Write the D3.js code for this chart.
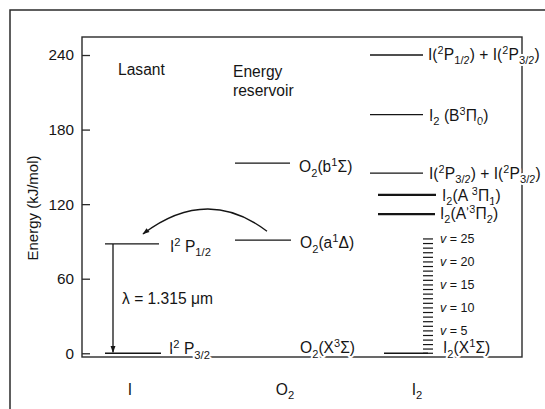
<!DOCTYPE html>
<html><head><meta charset="utf-8">
<script src="https://cdn.jsdelivr.net/npm/d3@7"></script>
<style>
body{margin:0;background:#fff}
svg{display:block}
text{font-family:"Liberation Sans",Arial,Helvetica,sans-serif;fill:#151515}
</style>
</head><body><svg id="c" width="545" height="409"></svg>
<script>
// ---------------- data ----------------
const categories = ["I", "O2", "I2"];
const categoryLabels = ["I", "O_2", "I_2"];
const yTicks = [0, 60, 120, 180, 240];
const yTickLabels = ["0", "60", "120", "180", "240"];

const levelColumn = ["I", "I", "O2", "O2", "O2", "I2", "I2", "I2", "I2", "I2", "I2"];
const levelNames = [
  "I^2 P_{3/2}", "I^2 P_{1/2}",
  "O_2(X^3Σ)", "O_2(a^1Δ)", "O_2(b^1Σ)",
  "I_2(X^1Σ)", "I_2(A'^3Π_2)", "I_2(A ^3Π_1)",
  "I(^2P_{3/2}) + I(^2P_{3/2})", "I_2 (B^3Π_0)", "I(^2P_{1/2}) + I(^2P_{3/2})"
];
const levelEnergy = [0, 88, 0, 91, 153, 0, 112, 127.5, 145, 192, 240];

const vibQuantum = [0,1,2,3,4,5,6,7,8,9,10,11,12,13,14,15,16,17,18,19,20,21,22,23,24,25];
const vibEnergy  = [0,3.4,7.0,10.6,14.3,18.0,21.7,25.4,29.1,32.8,36.5,40.2,43.9,47.6,51.3,55.0,58.7,62.4,66.1,69.8,73.5,77.2,80.9,84.6,88.3,92.0];
const vibLabelV  = [5, 10, 15, 20, 25];

const headings = ["Lasant", "Energy", "reservoir"];
const laserLabel = "λ = 1.315 μm";
const yTitle = "Energy (kJ/mol)";

// ---------------- layout (not data) ----------------
const box = {l: 82, t: 37, r: 522, b: 357};
const FS = 15.6;
// per level: line extent relative to column centre, label x (relative to column centre), label baseline dy, draw line?, stroke width
const levelLayout = [
  {x0: -25, x1: 31, lx: 39, dy: 1,  line: true,  sw: 1.3},
  {x0: -25, x1: 29, lx: 40, dy: 8,  line: true,  sw: 1.3},
  {x0: 0,   x1: 0,  lx: 15, dy: 0,  line: false, sw: 1.3},
  {x0: -50, x1: 6,  lx: 15, dy: 8,  line: true,  sw: 1.3},
  {x0: -50, x1: 5,  lx: 14, dy: 9,  line: true,  sw: 1.3},
  {x0: -33, x1: 11, lx: 26, dy: 0,  line: true,  sw: 1.3},
  {x0: -39, x1: 18, lx: 23, dy: 5,  line: true,  sw: 2.2},
  {x0: -39, x1: 19, lx: 25, dy: 6,  line: true,  sw: 2.2},
  {x0: -47, x1: 6,  lx: 12, dy: 6,  line: true,  sw: 1.3},
  {x0: -47, x1: 6,  lx: 12, dy: 6,  line: true,  sw: 1.3},
  {x0: -47, x1: 6,  lx: 11, dy: 5,  line: true,  sw: 1.3}
];

const svg = d3.select("#c");
const x = d3.scaleOrdinal().domain(categories).range([130, 285, 417]);
const y = d3.scaleLinear().domain([-3, 254.5]).range([box.b, box.t]);

// marker
const defs = svg.append("defs");
defs.append("marker").attr("id", "ah").attr("viewBox", "0 0 10 10")
  .attr("refX", 9).attr("refY", 5).attr("markerWidth", 8).attr("markerHeight", 7)
  .attr("markerUnits", "userSpaceOnUse").attr("orient", "auto")
  .append("path").attr("d", "M0,1.5 L10,5 L0,8.5 Z").attr("fill", "#151515");

// outer frame
svg.append("rect").attr("x", 10).attr("y", 10).attr("width", 600).attr("height", 500)
  .attr("fill", "none").attr("stroke", "#2a2a2a").attr("stroke-width", 1.5);

// plot box
svg.append("rect").attr("x", box.l).attr("y", box.t)
  .attr("width", box.r - box.l).attr("height", box.b - box.t)
  .attr("fill", "none").attr("stroke", "#2a2a2a").attr("stroke-width", 1.4);

// y axis
const yAxis = d3.axisLeft(y).tickValues(yTicks)
  .tickFormat((d, i) => yTickLabels[i]).tickSizeInner(-8).tickSizeOuter(0).tickPadding(8);
const ga = svg.append("g").attr("transform", `translate(${box.l},0)`).call(yAxis);
ga.select(".domain").remove();
ga.selectAll(".tick line").attr("stroke", "#2a2a2a").attr("stroke-width", 1.3);
ga.selectAll(".tick text").attr("font-size", 15.3).attr("fill", "#151515")
  .attr("font-family", '"Liberation Sans",Arial,sans-serif');

svg.append("text").attr("transform", "translate(38,208) rotate(-90)")
  .attr("text-anchor", "middle").attr("font-size", 15).text(yTitle);

// rich text helper
function parseRich(s) {
  const segs = [];
  let i = 0, buf = "";
  const flush = () => { if (buf) { segs.push({t: buf, m: "n"}); buf = ""; } };
  while (i < s.length) {
    const c = s[i];
    if (c === "^" || c === "_") {
      flush();
      let t = "";
      if (s[i + 1] === "{") { const j = s.indexOf("}", i); t = s.slice(i + 2, j); i = j + 1; }
      else { t = s[i + 1]; i += 2; }
      segs.push({t, m: c === "^" ? "sup" : "sub"});
    } else { buf += c; i++; }
  }
  flush();
  return segs;
}
function rich(sel, s, size) {
  const off = {n: 0, sup: -size * 0.38, sub: size * 0.28};
  let cur = 0;
  parseRich(s).forEach(seg => {
    const target = off[seg.m];
    sel.append("tspan").attr("dy", target - cur)
      .attr("font-size", seg.m === "n" ? size : size * 0.72)
      .text(seg.t);
    cur = target;
  });
}

// level lines
const lv = svg.append("g");
levelEnergy.forEach((e, i) => {
  const L = levelLayout[i];
  const cx = x(levelColumn[i]);
  if (L.line) {
    lv.append("line").attr("x1", cx + L.x0).attr("x2", cx + L.x1)
      .attr("y1", y(e)).attr("y2", y(e))
      .attr("stroke", "#151515").attr("stroke-width", L.sw);
  }
});

// vibrational ladder
svg.append("g").selectAll("line").data(vibEnergy).join("line")
  .attr("x1", x("I2") + 6).attr("x2", x("I2") + 16)
  .attr("y1", d => y(d)).attr("y2", d => y(d))
  .attr("stroke", "#151515").attr("stroke-width", 1.2);
vibLabelV.forEach(v => {
  const e = vibEnergy[vibQuantum.indexOf(v)];
  const t = svg.append("text").attr("x", x("I2") + 23).attr("y", y(e) + 4.4)
    .attr("font-size", 12.5);
  t.append("tspan").attr("font-style", "italic").text("v");
  t.append("tspan").text(" = " + v);
});

// level labels (white halo hides the box edge under them)
levelEnergy.forEach((e, i) => {
  const L = levelLayout[i];
  const t = svg.append("text").attr("x", x(levelColumn[i]) + L.lx)
    .attr("y", y(e) + L.dy)
    .attr("stroke", "#fff").attr("stroke-width", 4).attr("paint-order", "stroke")
    .attr("stroke-linejoin", "round");
  rich(t, levelNames[i], FS);
});

// headings
svg.append("text").attr("x", 118).attr("y", 75).attr("font-size", FS).text(headings[0]);
svg.append("text").attr("x", 233).attr("y", 77).attr("font-size", FS).text(headings[1]);
svg.append("text").attr("x", 233).attr("y", 96).attr("font-size", FS).text(headings[2]);

// laser transition arrow
svg.append("line").attr("x1", x("I") - 17).attr("x2", x("I") - 17)
  .attr("y1", y(levelEnergy[1])).attr("y2", y(0) - 1)
  .attr("stroke", "#151515").attr("stroke-width", 1.3).attr("marker-end", "url(#ah)");
svg.append("text").attr("x", x("I") - 8).attr("y", y(44) + 5).attr("font-size", FS).text(laserLabel);

// energy-transfer curved arrow
const p0 = [x("O2") - 18, y(levelEnergy[3]) - 9];
const pc = [x("O2") - 78, y(135)];
const p1 = [x("I") + 13, y(levelEnergy[1]) - 10];
svg.append("path").attr("d", `M${p0[0]},${p0[1]} Q${pc[0]},${pc[1]} ${p1[0]},${p1[1]}`)
  .attr("fill", "none").attr("stroke", "#151515").attr("stroke-width", 1.3)
  .attr("marker-end", "url(#ah)");

// category labels
categories.forEach((c, i) => {
  const t = svg.append("text").attr("x", x(c)).attr("y", 395).attr("text-anchor", "middle");
  rich(t, categoryLabels[i], FS);
});
</script>
</body></html>
